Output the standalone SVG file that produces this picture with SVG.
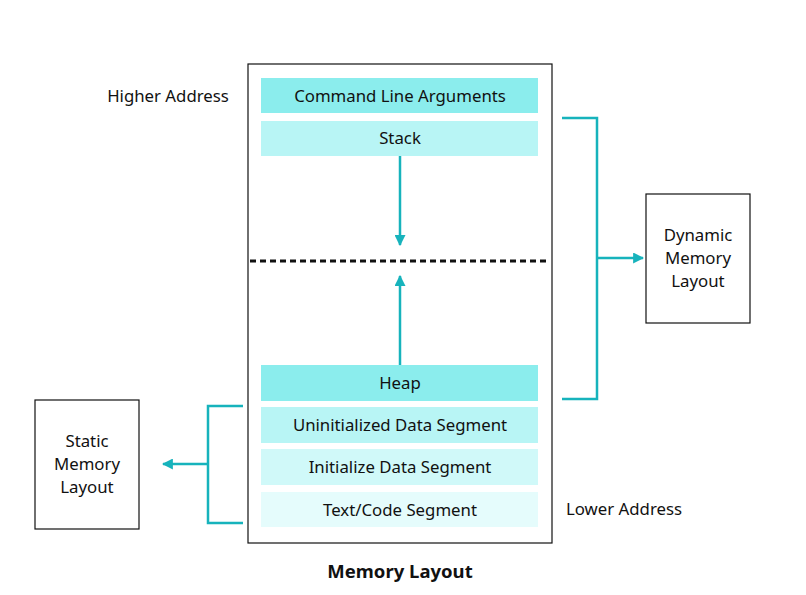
<svg xmlns="http://www.w3.org/2000/svg" width="806" height="595" viewBox="0 0 806 595">
<defs>
<style>
text{font-family:"Noto Sans","Open Sans","Liberation Sans",sans-serif;font-size:16.8px;fill:#111;text-anchor:middle}
.box{fill:#fff;stroke:#111;stroke-width:1.2}
.tl{fill:none;stroke:#17B3BC;stroke-width:2.5}
</style>
<marker id="ah" viewBox="0 0 10 10" refX="9" refY="5" markerWidth="4.4" markerHeight="4.4" orient="auto" markerUnits="strokeWidth">
<path d="M0,0 L10,5 L0,10 z" fill="#17B3BC"/>
</marker>
</defs>
<rect width="806" height="595" fill="#fff"/>
<g id="memory">
<rect class="box" x="248" y="64" width="304" height="479"/>
</g>
<g id="cla"><rect x="261" y="78" width="277" height="35" fill="#8BEDED"/><text x="400" y="102">Command Line Arguments</text></g>
<g id="stack"><rect x="261" y="121" width="277" height="35" fill="#B8F5F5"/><text x="400" y="144">Stack</text></g>
<g id="heap"><rect x="261" y="365" width="277" height="36" fill="#8BEDED"/><text x="400" y="389">Heap</text></g>
<g id="uninit"><rect x="261" y="407" width="277" height="36" fill="#B8F5F5"/><text x="400" y="431">Uninitialized Data Segment</text></g>
<g id="init"><rect x="261" y="449" width="277" height="36" fill="#D0F9F9"/><text x="400" y="473">Initialize Data Segment</text></g>
<g id="text"><rect x="261" y="492" width="277" height="35" fill="#E5FCFC"/><text x="400" y="516">Text/Code Segment</text></g>
<g id="dynamic"><rect class="box" x="646" y="194" width="104" height="129"/><text x="698" y="241">Dynamic</text><text x="698" y="264">Memory</text><text x="698" y="287">Layout</text></g>
<g id="static"><rect class="box" x="35" y="400" width="104" height="129"/><text x="87" y="447">Static</text><text x="87" y="470">Memory</text><text x="87" y="493">Layout</text></g>
<g id="labels">
<text x="168" y="102">Higher Address</text>
<text x="624" y="515">Lower Address</text>
<text x="400" y="578" style="font-weight:bold;font-size:18.5px">Memory Layout</text>
</g>
<g id="connectors">
<line x1="250" y1="261" x2="550" y2="261" stroke="#111" stroke-width="3" stroke-dasharray="6 4"/>
<line class="tl" x1="400" y1="156" x2="400" y2="245" marker-end="url(#ah)"/>
<line class="tl" x1="400" y1="365" x2="400" y2="276" marker-end="url(#ah)"/>
<polyline class="tl" points="562,118 597,118 597,399 562,399"/>
<line class="tl" x1="597" y1="258" x2="643" y2="258" marker-end="url(#ah)"/>
<polyline class="tl" points="243,406 208,406 208,523 243,523"/>
<line class="tl" x1="208" y1="464" x2="163" y2="464" marker-end="url(#ah)"/>
</g>
</svg>
